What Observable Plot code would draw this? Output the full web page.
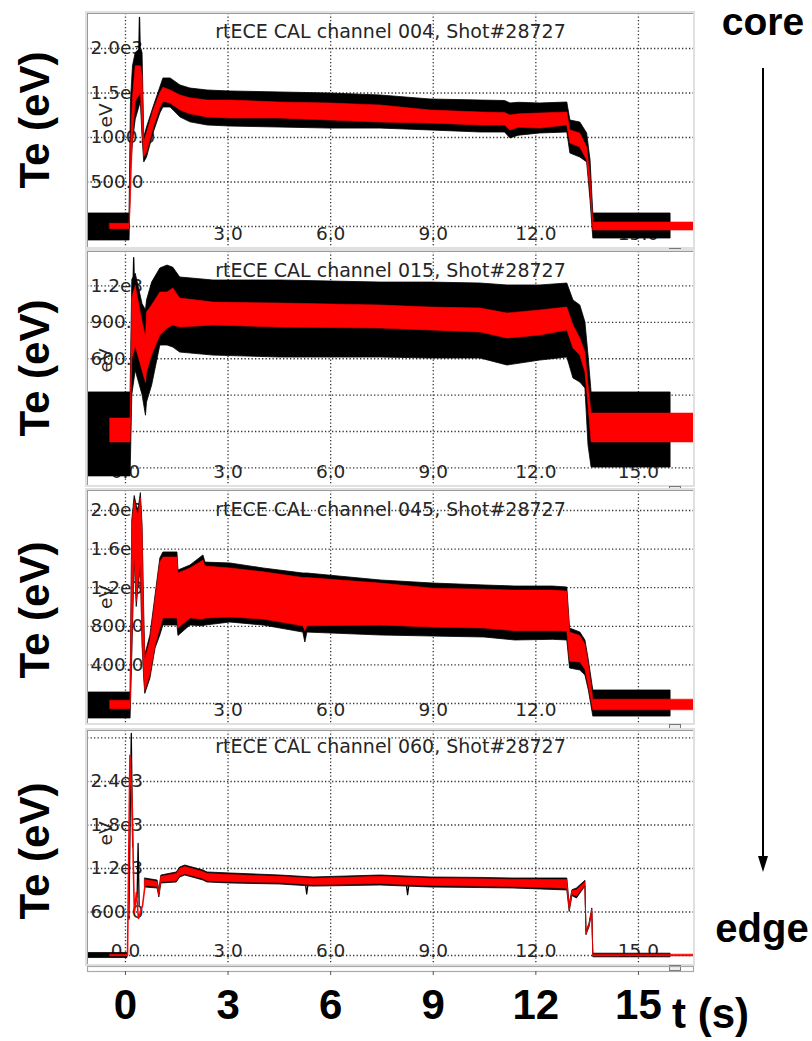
<!DOCTYPE html>
<html>
<head>
<meta charset="utf-8">
<script src="https://cdn.jsdelivr.net/npm/d3@7"></script>
<script src="https://cdn.jsdelivr.net/npm/@observablehq/plot@0.6"></script>
<style>
  html, body { margin: 0; padding: 0; background: #fff; }
  #wrap { position: relative; width: 812px; height: 1041px; overflow: hidden; background: #fff; }
  .panel { position: absolute; left: 87px; width: 606px; box-shadow: 0 0 0 2px #e0e0e0; }
  .panel svg { display: block; }
  .big { position: absolute; font-family: "Liberation Sans", Arial, sans-serif; font-weight: bold; color: #000; white-space: nowrap; }
  .te { width: 200px; height: 42px; line-height: 42px; font-size: 42px; text-align: center; transform: rotate(-90deg); }
  .knob { position: absolute; left: 669px; width: 10px; height: 4px; border: 1px solid #777; background: #eee; }
</style>
</head>
<body>
<div id="wrap"></div>
<script>
// ---------- shared axis data ----------
const xDomain = [-1.11, 16.61];
const xGrid = [0, 3, 6, 9, 12, 15];
const bottomTicks = [0, 3, 6, 9, 12, 15];
const titleShot = "Shot#28727";

// ---------- panel 1 : channel 004 ----------
const p1Title = "rtECE CAL channel 004, " + titleShot;
const p1YGrid = [2000, 1500, 1000, 500, 0];
const p1YLabels = ["2.0e3", "1.5e3", "1000.0", "500.0", ""];
const p1XLabelT = [3, 6, 9, 12, 15];
const p1T       = [-1.11, -0.45, 0.12, 0.16, 0.22, 0.30, 0.45, 0.50, 0.55, 0.63, 0.82, 1.02, 1.11, 1.32, 1.61, 1.9, 2.4, 3.07, 4.5, 6.0, 7.46, 8.92, 10.4, 11.1, 11.26, 11.5, 12.13, 12.92, 13.01, 13.3, 13.5, 13.6, 13.68, 15.94, 16.61];
const p1BlackLo = [-157, -157, -157, 600, 950, 1200, 1400, 1000, 720, 775, 1045, 1270, 1337, 1337, 1225, 1170, 1135, 1123, 1112, 1100, 1100, 1079, 1056, 1056, 989, 1020, 1045, 1056, 820, 775, 720, 292, -135, -135, null];
const p1BlackHi = [146, 146, 146, 1400, 1800, 1950, 2000, 1950, 1000, 1112, 1337, 1562, 1663, 1663, 1584, 1550, 1528, 1517, 1506, 1494, 1472, 1427, 1415, 1410, 1382, 1390, 1382, 1393, 1191, 1168, 1045, 742, 146, 146, null];
const p1RedLo   = [null, -30, -30, 300, 1000, 1400, 1500, 1100, 780, 830, 1100, 1330, 1400, 1382, 1303, 1260, 1225, 1213, 1213, 1191, 1168, 1157, 1135, 1135, 1079, 1110, 1100, 1135, 932, 888, 742, 400, -45, -45, -45];
const p1RedHi   = [null, 30, 30, 900, 1450, 1800, 1800, 1700, 950, 1050, 1300, 1500, 1560, 1528, 1472, 1440, 1415, 1415, 1393, 1382, 1360, 1303, 1281, 1275, 1247, 1260, 1270, 1281, 1079, 1045, 888, 560, 45, 45, 45];
const p1BlackSpikeId = [1, 1, 1];
const p1BlackSpikeT  = [0.38, 0.41, 0.44];
const p1BlackSpikeV  = [1700, 2350, 1800];

// ---------- panel 2 : channel 015 ----------
const p2Title = "rtECE CAL channel 015, " + titleShot;
const p2YGrid = [1200, 900, 600, 300, 0, -300];
const p2YLabels = ["1.2e3", "900.0", "600.0", "", "", ""];
const p2XLabelT = [0, 3, 6, 9, 12, 15];
const p2T       = [-1.11, -0.44, 0.15, 0.2, 0.3, 0.5, 0.6, 0.63, 0.78, 1.02, 1.23, 1.4, 1.6, 2.57, 4.53, 7.46, 8.92, 10.38, 11.17, 12.13, 12.92, 13.1, 13.3, 13.45, 13.54, 13.63, 15.94, 16.61];
const p2BlackLo = [-370, -370, -370, 300, 500, 300, 130, 239, 379, 709, 709, 692, 651, 626, 610, 610, 602, 602, 544, 585, 610, 437, 404, 354, -115, -297, -297, null];
const p2BlackHi = [322, 322, 322, 1250, 1300, 1050, 1000, 1080, 1228, 1344, 1368, 1350, 1270, 1245, 1245, 1228, 1228, 1220, 1204, 1204, 1220, 1080, 1039, 899, 627, 322, 322, null];
const p2RedLo   = [null, -90, -90, 600, 700, 500, 400, 486, 627, 791, 849, 874, 857, 874, 857, 849, 833, 816, 767, 791, 833, 684, 627, 486, 214, -90, -90, -90];
const p2RedHi   = [null, 107, 107, 1100, 1200, 900, 780, 981, 1039, 1146, 1146, 1179, 1096, 1063, 1055, 1039, 1022, 1014, 973, 998, 1022, 874, 767, 651, 379, 148, 148, 148];
const p2BlackSpikeId = [1, 1, 1];
const p2BlackSpikeT  = [0.2, 0.24, 0.28];
const p2BlackSpikeV  = [900, 1434, 1000];

// ---------- panel 3 : channel 045 ----------
const p3Title = "rtECE CAL channel 045, " + titleShot;
const p3YGrid = [2000, 1600, 1200, 800, 400, 0];
const p3YLabels = ["2.0e3", "1.6e3", "1.2e3", "800.0", "400.0", ""];
const p3XLabelT = [3, 6, 9, 12, 15];
const p3T       = [-1.11, -0.44, 0.15, 0.2, 0.27, 0.33, 0.38, 0.45, 0.5, 0.55, 0.58, 0.73, 0.88, 1.02, 1.11, 1.52, 1.55, 1.9, 2.28, 2.34, 3.07, 4.04, 5.2, 5.26, 5.32, 7.46, 9.0, 10.5, 11.4, 12.5, 12.92, 13.0, 13.3, 13.45, 13.55, 13.68, 15.94, 16.61];
const p3BlackLo = [-155, -155, -155, 500, 1500, 1000, 1200, 1400, 600, 250, 100, 259, 570, 705, 808, 808, 700, 808, 800, 808, 839, 808, 735, 632, 735, 705, 694, 684, 653, 660, 653, 363, 342, 290, 135, -135, -135, null];
const p3BlackHi = [114, 114, 114, 1900, 2150, 2050, 2000, 2180, 1850, 900, 500, 705, 1119, 1503, 1565, 1565, 1378, 1430, 1534, 1460, 1451, 1399, 1347, 1347, 1347, 1275, 1243, 1223, 1212, 1212, 1202, 777, 736, 653, 445, 135, 135, null];
const p3RedLo   = [null, -60, -60, 600, 1550, 1050, 1250, 1450, 650, 300, 130, 300, 600, 777, 881, 881, 777, 881, 870, 880, 891, 870, 800, 750, 800, 808, 787, 777, 750, 750, 745, 434, 425, 350, 180, -70, -70, -70];
const p3RedHi   = [null, 30, 30, 1850, 2100, 2000, 1950, 2130, 1800, 850, 450, 650, 1080, 1461, 1513, 1513, 1347, 1400, 1480, 1420, 1399, 1360, 1300, 1300, 1300, 1243, 1190, 1180, 1170, 1170, 1160, 735, 700, 610, 400, 40, 40, 40];
const p3BlackSpikeId = [];
const p3BlackSpikeT  = [];
const p3BlackSpikeV  = [];

// ---------- panel 4 : channel 060 ----------
const p4Title = "rtECE CAL channel 060, " + titleShot;
const p4YGrid = [3000, 2400, 1800, 1200, 600, 0];
const p4YLabels = ["", "2.4e3", "1.8e3", "1.2e3", "600.0", ""];
const p4XLabelT = [0, 3, 6, 9, 12, 15];
const p4T       = [-1.11, -0.44, 0.06, 0.3, 0.58, 0.94, 0.99, 1.05, 1.5, 1.6, 1.75, 2.28, 2.4, 3.07, 4.53, 5.5, 7.46, 8.92, 10.38, 11.35, 12.92, 12.99, 13.07, 13.2, 13.45, 13.48, 13.57, 13.65, 13.68, 15.94, 16.61];
const p4BlackLo = [-35, -35, -35, null, 938, 924, 800, 993, 1007, 1076, 1103, 1034, 1007, 993, 979, 950, 965, 938, 930, 924, 897, 600, 820, 786, 950, 280, 390, 600, -25, -25, null];
const p4BlackHi = [35, 35, 35, null, 1062, 1034, 900, 1103, 1145, 1214, 1241, 1172, 1145, 1131, 1103, 1076, 1103, 1076, 1070, 1062, 1062, 700, 900, 924, 1030, 330, 440, 650, 25, 25, null];
const p4RedLo   = [null, -12, -12, null, 960, 945, 820, 1010, 1025, 1095, 1120, 1055, 1025, 1010, 1000, 970, 985, 960, 950, 945, 920, 620, 840, 810, 965, 290, 400, 610, -12, -12, -12];
const p4RedHi   = [null, 12, 12, null, 1040, 1015, 880, 1085, 1125, 1195, 1220, 1150, 1125, 1110, 1085, 1060, 1085, 1060, 1050, 1045, 1040, 680, 890, 900, 1010, 320, 430, 640, 12, 12, 12];
const p4BlackSpikeId = [1, 1, 1, 2, 2, 2, 3, 3, 3, 4, 4, 4];
const p4BlackSpikeT  = [0.1, 0.17, 0.21, 0.34, 0.37, 0.4, 5.27, 5.3, 5.33, 8.22, 8.25, 8.28];
const p4BlackSpikeV  = [500, 3062, 1500, 800, 1545, 700, 960, 850, 960, 950, 840, 950];
const p4RedSpikeT = [0.06, 0.13, 0.2, 0.23, 0.26, 0.32, 0.38, 0.5, 0.58];
const p4RedSpikeV = [0, 2760, 2028, 1241, 593, 869, 510, 690, 1000];

// ---------- builder ----------
function rowsOf(t, bLo, bHi, rLo, rHi) {
  return t.map((d, i) => ({t: d, bLo: bLo[i], bHi: bHi[i], rLo: rLo[i], rHi: rHi[i]}));
}
function linesOf(id, t, v) {
  return t.map((d, i) => ({id: id[i], t: d, v: v[i]}));
}
const txt = "#262626";

function panel(cfg) {
  const rows = rowsOf(cfg.t, cfg.bLo, cfg.bHi, cfg.rLo, cfg.rHi);
  const bl = linesOf(cfg.bsId, cfg.bsT, cfg.bsV);
  return Plot.plot({
    width: 606, height: cfg.height, margin: 0,
    x: {domain: xDomain, axis: null},
    y: {domain: cfg.yDomain, axis: null},
    style: {fontFamily: "DejaVu Sans, sans-serif", background: "white", overflow: "hidden"},
    marks: [
      Plot.ruleY(cfg.yGrid, {stroke: "#333", strokeWidth: 1.3, strokeDasharray: "1.3,2.2"}),
      Plot.ruleX(xGrid, {stroke: "#333", strokeWidth: 1.3, strokeDasharray: "1.3,2.2"}),
      Plot.text(cfg.yGrid, {y: d => d, text: (d, i) => cfg.yLabels[i], frameAnchor: "left", textAnchor: "start", dx: 3, lineAnchor: "middle", fill: txt, fontSize: 18.5}),
      Plot.text(cfg.xLabelT, {x: d => d, text: d => d.toFixed(1), frameAnchor: "bottom", dy: -13, lineAnchor: "middle", fill: txt, fontSize: 18.5}),
      Plot.text([cfg.title], {frameAnchor: "top", dy: cfg.titleDy, lineAnchor: "middle", fill: txt, fontSize: 19}),
      Plot.text(["eV"], {frameAnchor: "left", dx: 19, dy: cfg.evDy, rotate: -90, lineAnchor: "middle", fill: txt, fontSize: 18.5}),
      Plot.areaY(rows, {x: "t", y1: "bLo", y2: "bHi", fill: "black", stroke: "black", strokeWidth: 0.8, curve: "linear", clip: true}),
      Plot.line(bl, {x: "t", y: "v", z: "id", stroke: "black", strokeWidth: 1.3, clip: true}),
      Plot.areaY(rows, {x: "t", y1: "rLo", y2: "rHi", fill: "#ff0000", stroke: "#ff0000", strokeWidth: 0.6, curve: "linear", clip: true}),
      Plot.line(cfg.redLine, {x: "t", y: "v", stroke: "#ff0000", strokeWidth: 1.6, clip: true}),
      Plot.frame({stroke: "#9a9a9a", strokeWidth: 1})
    ]
  });
}

const panels = [
  {top: 13, height: 234, yDomain: [-236, 2393], yGrid: p1YGrid, yLabels: p1YLabels, xLabelT: p1XLabelT, title: p1Title, titleDy: 18, evDy: -3,
   t: p1T, bLo: p1BlackLo, bHi: p1BlackHi, rLo: p1RedLo, rHi: p1RedHi, bsId: p1BlackSpikeId, bsT: p1BlackSpikeT, bsV: p1BlackSpikeV, redLine: []},
  {top: 251, height: 234, yDomain: [-445, 1484], yGrid: p2YGrid, yLabels: p2YLabels, xLabelT: p2XLabelT, title: p2Title, titleDy: 19, evDy: 4,
   t: p2T, bLo: p2BlackLo, bHi: p2BlackHi, rLo: p2RedLo, rHi: p2RedHi, bsId: p2BlackSpikeId, bsT: p2BlackSpikeT, bsV: p2BlackSpikeV, redLine: []},
  {top: 490, height: 233, yDomain: [-207, 2207], yGrid: p3YGrid, yLabels: p3YLabels, xLabelT: p3XLabelT, title: p3Title, titleDy: 19, evDy: 2,
   t: p3T, bLo: p3BlackLo, bHi: p3BlackHi, rLo: p3RedLo, rHi: p3RedHi, bsId: p3BlackSpikeId, bsT: p3BlackSpikeT, bsV: p3BlackSpikeV, redLine: []},
  {top: 730, height: 234, yDomain: [-124, 3103], yGrid: p4YGrid, yLabels: p4YLabels, xLabelT: p4XLabelT, title: p4Title, titleDy: 16, evDy: -2,
   t: p4T, bLo: p4BlackLo, bHi: p4BlackHi, rLo: p4RedLo, rHi: p4RedHi, bsId: p4BlackSpikeId, bsT: p4BlackSpikeT, bsV: p4BlackSpikeV,
   redLine: p4RedSpikeT.map((d, i) => ({t: d, v: p4RedSpikeV[i]}))}
];

const wrap = document.getElementById("wrap");
for (const cfg of panels) {
  const div = document.createElement("div");
  div.className = "panel";
  div.style.top = cfg.top + "px";
  div.style.height = cfg.height + "px";
  div.appendChild(panel(cfg));
  wrap.appendChild(div);
  const knob = document.createElement("div");
  knob.className = "knob";
  knob.style.top = (cfg.top + cfg.height + 1) + "px";
  wrap.appendChild(knob);
}

// bottom time axis
const bottom = Plot.plot({
  width: 606, height: 76, marginTop: 1, marginBottom: 70, marginLeft: 0, marginRight: 0,
  x: {domain: xDomain},
  style: {background: "transparent", overflow: "visible"},
  marks: [
    Plot.frame({stroke: "#a8a8a8", strokeWidth: 1.2}),
    Plot.axisX({ticks: bottomTicks, anchor: "bottom", tickSize: 4, tickPadding: 14, tickFormat: d => String(d),
      fontSize: 42, fontWeight: "bold", fontFamily: "Liberation Sans, Arial, sans-serif", stroke: "#555", fill: "black", label: null})
  ]
});
const bdiv = document.createElement("div");
bdiv.style.cssText = "position:absolute;left:87px;top:965px;width:606px;";
bdiv.appendChild(bottom);
wrap.appendChild(bdiv);

// decorations
function addBig(text, css) {
  const d = document.createElement("div");
  d.className = "big";
  d.textContent = text;
  d.style.cssText += css;
  wrap.appendChild(d);
  return d;
}
for (const cy of [120, 368, 610, 851]) {
  const d = addBig("Te (eV)", `left:${35 - 100}px;top:${cy - 21}px;`);
  d.classList.add("te");
}
addBig("t (s)", "left:672px;top:993px;font-size:42px;line-height:42px;");
addBig("core", "left:703px;top:4px;width:120px;text-align:center;font-size:39px;line-height:36px;");
addBig("edge", "left:702px;top:908px;width:120px;text-align:center;font-size:40px;line-height:40px;");
const shaft = document.createElement("div");
shaft.style.cssText = "position:absolute;left:762px;top:68px;width:2px;height:790px;background:#000;";
wrap.appendChild(shaft);
const head = document.createElement("div");
head.style.cssText = "position:absolute;left:758px;top:856px;width:0;height:0;border-left:5px solid transparent;border-right:5px solid transparent;border-top:16px solid #000;";
wrap.appendChild(head);
</script>
</body>
</html>
